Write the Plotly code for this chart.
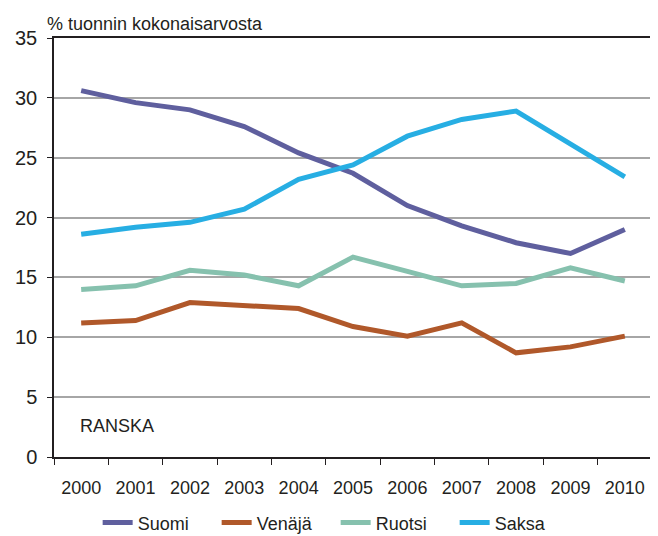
import plotly.graph_objects as go

years = ["2000", "2001", "2002", "2003", "2004", "2005", "2006", "2007", "2008", "2009", "2010"]
suomi = [30.6, 29.6, 29.0, 27.6, 25.4, 23.7, 21.0, 19.3, 17.9, 17.0, 19.0]
venaja = [11.2, 11.4, 12.9, 12.6, 12.4, 10.9, 10.1, 11.2, 8.7, 9.2, 10.1]
ruotsi = [14.0, 14.3, 15.6, 15.2, 14.3, 16.7, 15.5, 14.3, 14.5, 15.8, 14.7]
saksa = [18.6, 19.2, 19.6, 20.7, 23.2, 24.4, 26.8, 28.2, 28.9, 26.1, 23.4]

series = [
    ("Suomi", suomi, "#5f5f9e"),
    ("Venäjä", venaja, "#b0582a"),
    ("Ruotsi", ruotsi, "#86c1ae"),
    ("Saksa", saksa, "#27aee3"),
]

FONT = "Liberation Sans, Arial, sans-serif"

fig = go.Figure()
for name, vals, color in series:
    fig.add_trace(go.Scatter(x=years, y=vals, name=name, mode="lines",
                             line=dict(color=color, width=5)))

# page body has an 8px default margin; figure size/margins compensate for it
fig.update_layout(
    width=650, height=528,
    margin=dict(l=46, r=6, t=30, b=79, autoexpand=False),
    paper_bgcolor="white", plot_bgcolor="white",
    font=dict(family=FONT, size=18, color="#231f20"),
    showlegend=True,
    legend=dict(orientation="h", x=0.073, xanchor="left", y=-0.157, yanchor="middle",
                font=dict(size=18), entrywidth=74, entrywidthmode="pixels",
                tracegroupgap=0, bgcolor="rgba(0,0,0,0)"),
    annotations=[
        dict(text="% tuonnin kokonaisarvosta", xref="paper", yref="paper",
             x=-0.015, y=1.0, xanchor="left", yanchor="bottom", yshift=2,
             showarrow=False, font=dict(size=18)),
        dict(text="RANSKA", xref="paper", yref="paper", x=0.04, y=0.073,
             xanchor="left", yanchor="middle", showarrow=False, font=dict(size=18)),
    ],
)
fig.update_xaxes(type="category", tickson="boundaries", ticks="outside", ticklen=6,
                 tickcolor="#231f20", showline=True, linecolor="#231f20", linewidth=1.5,
                 mirror=True, showgrid=False, ticklabelstandoff=14, automargin=False,
                 tickfont=dict(size=18), range=[-0.5, 10.5])
fig.update_yaxes(range=[0, 35], dtick=5, ticks="outside", ticklen=5, tickcolor="#231f20",
                 showline=True, linecolor="#231f20", linewidth=1.5, mirror=True,
                 showgrid=True, gridcolor="#a6a6a6", gridwidth=1.5, automargin=False,
                 zeroline=False, tickfont=dict(size=20), ticklabelstandoff=6)

fig.write_html("out.html")
